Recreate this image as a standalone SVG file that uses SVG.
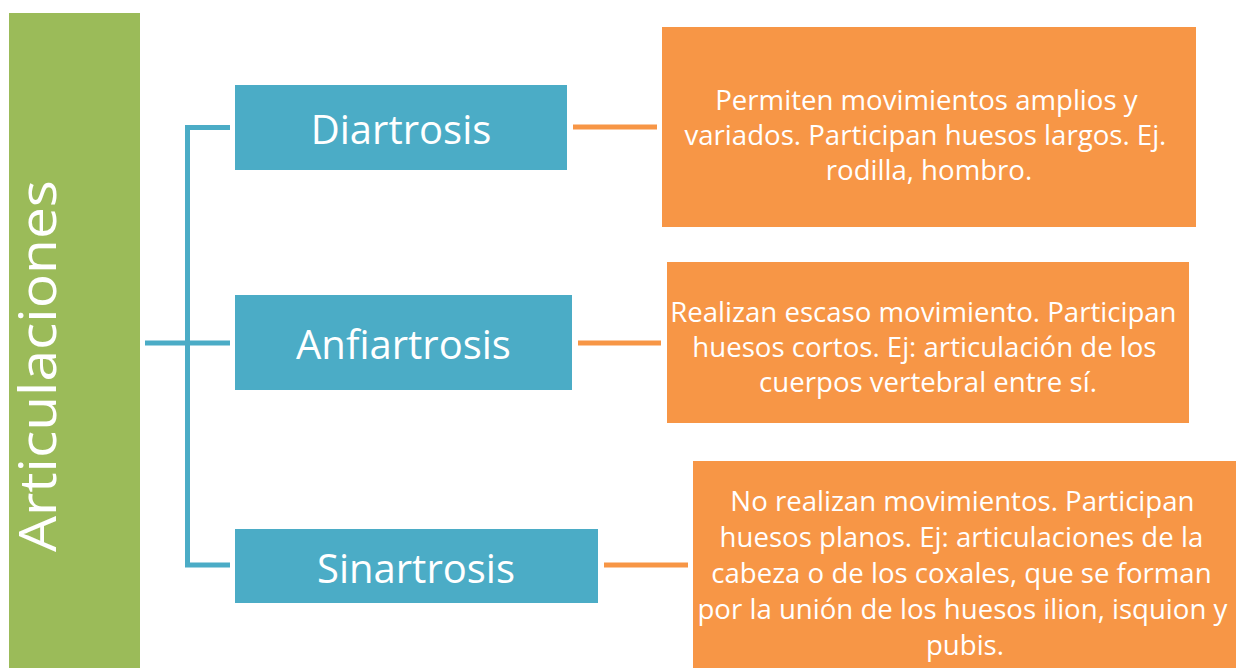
<svg xmlns="http://www.w3.org/2000/svg" width="1236" height="668" viewBox="0 0 1236 668">
  <style>
    .green { fill: #9BBB59; }
    .blue { fill: #4BACC6; }
    .orange { fill: #F79646; }
    .title { font-family: "Open Sans", "Liberation Sans", sans-serif; fill: #FFFFFF; text-anchor: middle; }
    .big { font-size: 40px; }
    .body { font-size: 27.6px; }
    .bracket { fill: none; stroke: #4BACC6; stroke-width: 5; }
    .link { fill: none; stroke: #F79646; stroke-width: 5; }
  </style>
  <rect width="1236" height="668" fill="#FFFFFF"/>

  <g id="articulaciones">
    <rect class="green" x="9" y="13" width="131" height="660"/>
    <text class="title" font-size="52" transform="translate(56,366) rotate(-90)" textLength="372" lengthAdjust="spacingAndGlyphs">Articulaciones</text>
  </g>

  <g id="connectors">
    <path class="bracket" d="M230,127.5 H187.5 V565 H230"/>
    <path class="bracket" d="M145,343 H230"/>
    <path class="link" d="M573,127 H657"/>
    <path class="link" d="M578,343 H661"/>
    <path class="link" d="M604,565 H688"/>
  </g>

  <g id="diartrosis">
    <rect class="blue" x="235" y="85" width="332" height="85"/>
    <text class="title big" x="401" y="144">Diartrosis</text>
  </g>
  <g id="anfiartrosis">
    <rect class="blue" x="235" y="295" width="337" height="95"/>
    <text class="title big" x="403.5" y="359">Anfiartrosis</text>
  </g>
  <g id="sinartrosis">
    <rect class="blue" x="235" y="529" width="363" height="74"/>
    <text class="title big" x="416" y="583">Sinartrosis</text>
  </g>

  <g id="desc-diartrosis">
    <rect class="orange" x="662" y="27" width="534" height="200"/>
    <text class="title body" x="929">
      <tspan x="930" y="110">Permiten movimientos amplios y</tspan>
      <tspan x="929" y="145">variados. Participan huesos largos. Ej.</tspan>
      <tspan x="929" y="180">rodilla, hombro.</tspan>
    </text>
  </g>
  <g id="desc-anfiartrosis">
    <rect class="orange" x="667" y="262" width="522" height="161"/>
    <text class="title body" x="928">
      <tspan x="927" y="322">Realizan escaso movimiento. Participan</tspan>
      <tspan x="928" y="357">huesos cortos. Ej: articulación de los</tspan>
      <tspan x="928" y="392">cuerpos vertebral entre sí.</tspan>
    </text>
  </g>
  <g id="desc-sinartrosis">
    <rect class="orange" x="693" y="461" width="543" height="212"/>
    <text class="title body" x="965">
      <tspan x="966" y="511">No realizan movimientos. Participan</tspan>
      <tspan x="965" y="547">huesos planos. Ej: articulaciones de la</tspan>
      <tspan x="965" y="583">cabeza o de los coxales, que se forman</tspan>
      <tspan x="966" y="619">por la unión de los huesos ilion, isquion y</tspan>
      <tspan x="965" y="655">pubis.</tspan>
    </text>
  </g>
</svg>
